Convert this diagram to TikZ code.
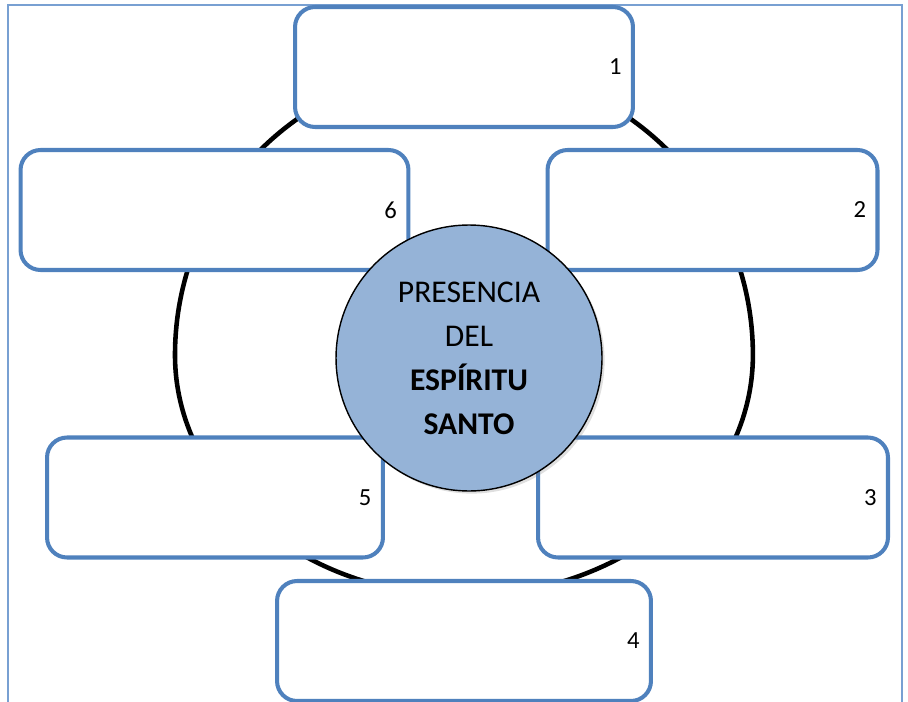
\documentclass[tikz,border=0pt]{standalone}
\usepackage{fontspec}
\setmainfont{Carlito}
\usetikzlibrary{positioning,shadows}

\definecolor{boxblue}{RGB}{79,129,189}
\definecolor{circleblue}{RGB}{149,179,215}
\definecolor{frameblue}{RGB}{120,160,210}

\tikzset{
  box/.style={draw=boxblue, line width=2.3pt, fill=white, rounded corners=0.4cm, minimum height=2.4cm},
  num/.style={inner sep=0pt, font=\fontsize{14}{16}\selectfont},
}

\begin{document}
\begin{tikzpicture}[x=0.02cm, y=-0.02cm]
\useasboundingbox (0,0) rectangle (908,702);

% marco
\draw[frameblue, line width=0.8pt] (8,720) -- (8,5) -- (902,5) -- (902,720);

% anillo
\draw[line width=2.6pt] (175,355) arc[start angle=180, end angle=0, radius=5.78cm]
  arc[start angle=0, end angle=-180, x radius=5.78cm, y radius=4.82cm];

% cajas
\node[box, minimum width=6.76cm] (box1) at (464,67) {};
\node[box, minimum width=6.6cm] (box2) at (712.5,210) {};
\node[box, minimum width=7cm] (box3) at (713,497.5) {};
\node[box, minimum width=7.48cm] (box4) at (464,641) {};
\node[box, minimum width=6.72cm] (box5) at (215,497.5) {};
\node[box, minimum width=7.76cm] (box6) at (214.5,210) {};

\node[num, left=7.5pt of box1.east] (num1) {1};
\node[num, left=7.5pt of box2.east] (num2) {2};
\node[num, left=7.5pt of box3.east] (num3) {3};
\node[num, left=7.5pt of box4.east] (num4) {4};
\node[num, left=7.5pt of box5.east] (num5) {5};
\node[num, left=7.5pt of box6.east] (num6) {6};

% centro
\node[circle, draw=black, line width=0.8pt, fill=circleblue, minimum size=5.32cm,
  drop shadow={opacity=0.25, shadow xshift=1.5pt, shadow yshift=-1.5pt},
  align=center, font=\fontsize{18}{25}\selectfont] (centro) at (469,358)
  {PRESENCIA\\DEL\\\textbf{ESPÍRITU}\\\textbf{SANTO}};
\end{tikzpicture}
\end{document}
